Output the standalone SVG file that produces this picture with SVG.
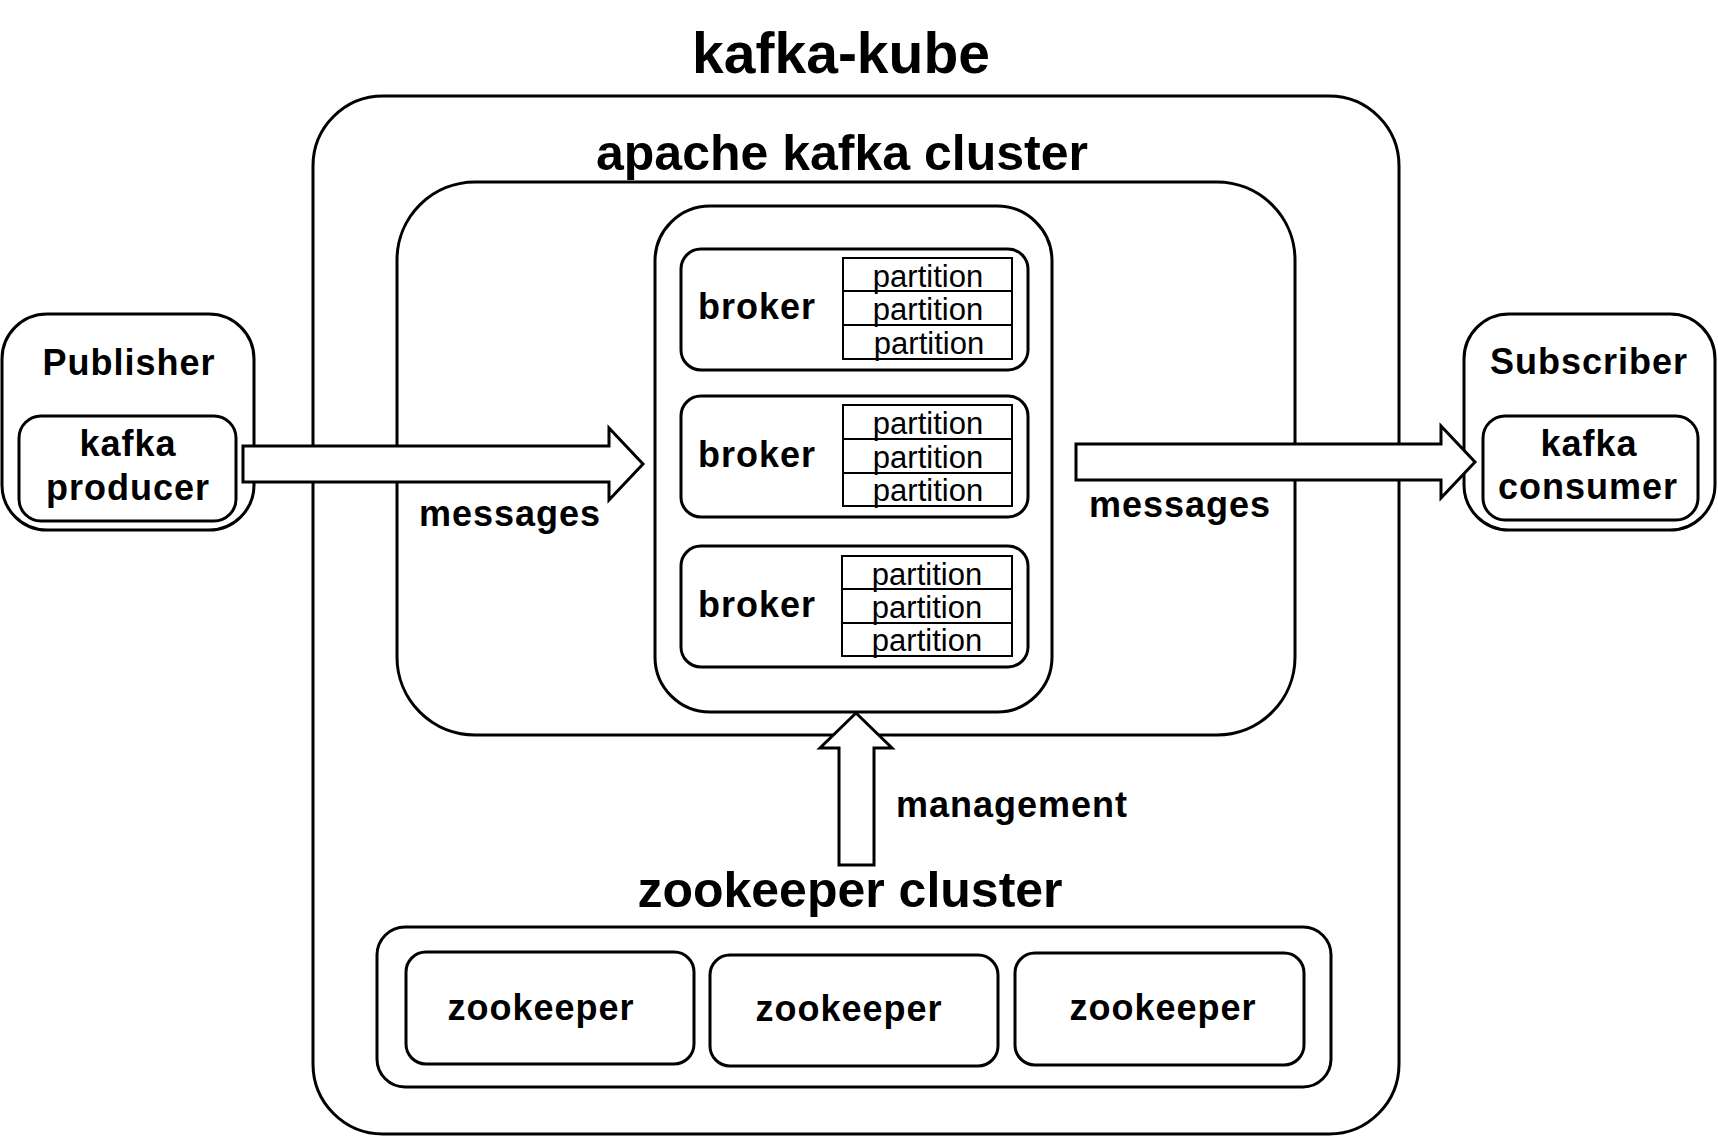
<svg xmlns="http://www.w3.org/2000/svg" width="1718" height="1137" viewBox="0 0 1718 1137">
<style>
.box{fill:none;stroke:#000;stroke-width:3}
.tbl{fill:#fff;stroke:#000;stroke-width:2}
.arrow{fill:#fff;stroke:#000;stroke-width:3;stroke-linejoin:miter}
text{font-family:"Liberation Sans",Arial,sans-serif;fill:#000}
.title{font-size:57px;font-weight:bold;text-anchor:middle}
.h2{font-size:50px;font-weight:bold;text-anchor:middle}
.lbl{font-size:36px;font-weight:bold;letter-spacing:1px;text-anchor:middle}
.brk{font-size:36px;font-weight:bold;letter-spacing:1px}
.zk{font-size:36px;font-weight:bold;letter-spacing:1px;text-anchor:middle}
.part{font-size:31px;text-anchor:middle}
</style>
<rect width="1718" height="1137" fill="#fff"/>
<text class="title" x="841" y="73">kafka-kube</text>

<g id="kafka-kube">
<rect class="box" x="313" y="96" width="1086" height="1038" rx="70"/>
</g>

<g id="apache-kafka-cluster">
<text class="h2" x="842" y="170">apache kafka cluster</text>
<rect class="box" x="397" y="182" width="898" height="553" rx="78"/>
</g>

<g id="broker-group">
<rect class="box" x="655" y="206" width="397" height="506" rx="55"/>
</g>

<g id="broker1">
<rect class="box" x="681" y="249" width="347" height="121" rx="20"/>
<text class="brk" x="698" y="319">broker</text>
<rect class="tbl" x="843" y="258" width="169" height="101"/>
<line x1="843" y1="291" x2="1012" y2="291" stroke="#000" stroke-width="2"/>
<line x1="843" y1="325" x2="1012" y2="325" stroke="#000" stroke-width="2"/>
<text class="part" x="928" y="287">partition</text>
<text class="part" x="928" y="320">partition</text>
<text class="part" x="929" y="354">partition</text>
</g>

<g id="broker2">
<rect class="box" x="681" y="396" width="347" height="121" rx="20"/>
<text class="brk" x="698" y="467">broker</text>
<rect class="tbl" x="843" y="405" width="169" height="101"/>
<line x1="843" y1="439" x2="1012" y2="439" stroke="#000" stroke-width="2"/>
<line x1="843" y1="473" x2="1012" y2="473" stroke="#000" stroke-width="2"/>
<text class="part" x="928" y="434">partition</text>
<text class="part" x="928" y="468">partition</text>
<text class="part" x="928" y="501">partition</text>
</g>

<g id="broker3">
<rect class="box" x="681" y="546" width="347" height="121" rx="20"/>
<text class="brk" x="698" y="617">broker</text>
<rect class="tbl" x="842" y="556" width="170" height="100"/>
<line x1="842" y1="589" x2="1012" y2="589" stroke="#000" stroke-width="2"/>
<line x1="842" y1="623" x2="1012" y2="623" stroke="#000" stroke-width="2"/>
<text class="part" x="927" y="585">partition</text>
<text class="part" x="927" y="618">partition</text>
<text class="part" x="927" y="651">partition</text>
</g>

<g id="publisher">
<rect class="box" x="2" y="314" width="252" height="216" rx="45"/>
<text class="lbl" x="129" y="375">Publisher</text>
</g>
<g id="kafka-producer">
<rect class="box" x="19" y="416" width="217" height="105" rx="22"/>
<text class="lbl" x="128" y="456">kafka</text>
<text class="lbl" x="128" y="500">producer</text>
</g>

<g id="subscriber">
<rect class="box" x="1464" y="314" width="251" height="216" rx="45"/>
<text class="lbl" x="1589" y="374">Subscriber</text>
</g>
<g id="kafka-consumer">
<rect class="box" x="1483" y="416" width="215" height="104" rx="22"/>
<text class="lbl" x="1589" y="456">kafka</text>
<text class="lbl" x="1588" y="499">consumer</text>
</g>

<g id="zookeeper-cluster">
<text class="h2" x="850" y="907">zookeeper cluster</text>
<rect class="box" x="377" y="927" width="954" height="160" rx="28"/>
</g>
<g id="zookeeper1">
<rect class="box" x="406" y="952" width="288" height="112" rx="20"/>
<text class="zk" x="541" y="1020">zookeeper</text>
</g>
<g id="zookeeper2">
<rect class="box" x="710" y="955" width="288" height="111" rx="20"/>
<text class="zk" x="849" y="1021">zookeeper</text>
</g>
<g id="zookeeper3">
<rect class="box" x="1015" y="953" width="289" height="112" rx="20"/>
<text class="zk" x="1163" y="1020">zookeeper</text>
</g>

<g id="connectors">
<polygon class="arrow" points="243,446 609,446 609,428 643,464 609,500 609,482 243,482"/>
<text class="lbl" x="510" y="526">messages</text>
<polygon class="arrow" points="1076,444 1441,444 1441,426 1475,462 1441,498 1441,480 1076,480"/>
<text class="lbl" x="1180" y="517">messages</text>
<polygon class="arrow" points="839,865 839,748 820,748 856,713 892,748 874,748 874,865"/>
<text class="lbl" x="1012" y="817">management</text>
</g>
</svg>
